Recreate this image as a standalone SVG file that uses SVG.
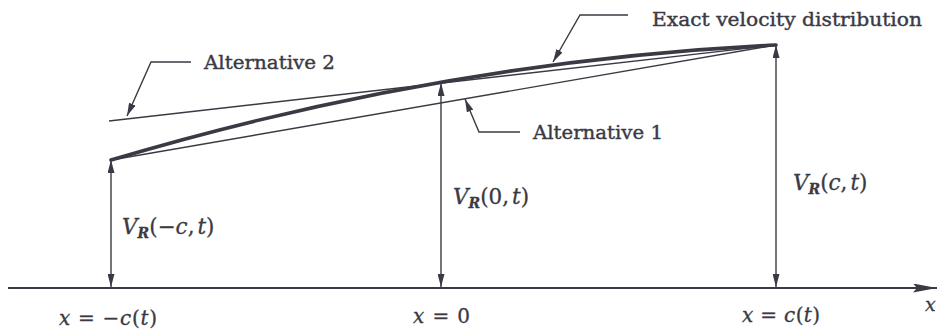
<svg xmlns="http://www.w3.org/2000/svg" width="940" height="332" viewBox="0 0 940 332">
<style>
.ln{fill:none;stroke:#3a3a44;stroke-width:1.4}
.thick{fill:none;stroke:#3a3a44;stroke-width:3.6;stroke-linecap:round}
.ax{fill:none;stroke:#3a3a44;stroke-width:2}
.lbl{font-family:"DejaVu Serif","Liberation Serif",serif;font-size:19px;fill:#3a3a44;stroke:#3a3a44;stroke-width:0.4}
.math{font-family:"DejaVu Serif","Liberation Serif",serif;fill:#3a3a44;stroke:#3a3a44;stroke-width:0.3}
.it{font-style:italic}
</style>
<defs>
<marker id="ah" viewBox="0 0 13 7" refX="13" refY="3.5" markerWidth="13" markerHeight="7" markerUnits="userSpaceOnUse" orient="auto-start-reverse">
<path d="M0,0 L13,3.5 L0,7 z" fill="#3a3a44"/>
</marker>
<marker id="axh" viewBox="0 0 24 9" refX="24" refY="4.5" markerWidth="24" markerHeight="9" markerUnits="userSpaceOnUse" orient="auto">
<path d="M0,0 L24,4.5 L0,9 L4,4.5 z" fill="#3a3a44"/>
</marker>
</defs>
<g id="axis">
<line class="ax" x1="8" y1="288" x2="937" y2="288" marker-end="url(#axh)"/>
<text class="math it" x="925" y="311" font-size="19">x</text>
</g>
<g id="curves">
<line id="alt2-line" class="ln" x1="109" y1="121" x2="776" y2="45"/>
<line id="alt1-line" class="ln" x1="111" y1="160" x2="776" y2="45"/>
<path id="exact-curve" class="thick" d="M111,160 Q443.5,61 776,45"/>
</g>
<g id="connectors">
<line class="ln" x1="111" y1="287" x2="111" y2="160" marker-start="url(#ah)" marker-end="url(#ah)"/>
<line class="ln" x1="441" y1="287" x2="441" y2="83" marker-start="url(#ah)" marker-end="url(#ah)"/>
<line class="ln" x1="776" y1="287" x2="776" y2="45" marker-start="url(#ah)" marker-end="url(#ah)"/>
<polyline class="ln" points="191,62 151,62 127,116" marker-end="url(#ah)"/>
<polyline class="ln" points="628,15 580,15 553,62" marker-end="url(#ah)"/>
<polyline class="ln" points="520,132 479,132 465,99" marker-end="url(#ah)"/>
</g>
<g id="label-alt2">
<text class="lbl" x="204" y="69" textLength="131" lengthAdjust="spacingAndGlyphs">Alternative 2</text>
</g>
<g id="label-exact">
<text class="lbl" x="652" y="26" textLength="270" lengthAdjust="spacingAndGlyphs">Exact velocity distribution</text>
</g>
<g id="label-alt1">
<text class="lbl" x="533" y="139" textLength="130" lengthAdjust="spacingAndGlyphs">Alternative 1</text>
</g>
<g id="label-vl">
<text class="math" x="122" y="234" font-size="21.5"><tspan class="it">V</tspan><tspan class="it" font-weight="bold" font-size="14" dy="4">R</tspan><tspan dy="-4">(−</tspan><tspan class="it">c</tspan>,<tspan class="it" dx="3">t</tspan>)</text>
</g>
<g id="label-v0">
<text class="math" x="453" y="204" font-size="21.5"><tspan class="it">V</tspan><tspan class="it" font-weight="bold" font-size="14" dy="4">R</tspan><tspan dy="-4">(0,</tspan><tspan class="it" dx="3">t</tspan>)</text>
</g>
<g id="label-vr">
<text class="math" x="793" y="190" font-size="21.5"><tspan class="it">V</tspan><tspan class="it" font-weight="bold" font-size="14" dy="4">R</tspan><tspan dy="-4">(</tspan><tspan class="it">c</tspan>,<tspan class="it" dx="3">t</tspan>)</text>
</g>
<g id="label-xl">
<text class="math" x="59" y="325" font-size="20" textLength="98" lengthAdjust="spacing"><tspan class="it">x</tspan> = −<tspan class="it">c</tspan>(<tspan class="it">t</tspan>)</text>
</g>
<g id="label-x0">
<text class="math" x="413" y="323" font-size="20" textLength="57" lengthAdjust="spacing"><tspan class="it">x</tspan> = 0</text>
</g>
<g id="label-xr">
<text class="math" x="742" y="322" font-size="20" textLength="78" lengthAdjust="spacing"><tspan class="it">x</tspan> = <tspan class="it">c</tspan>(<tspan class="it">t</tspan>)</text>
</g>
</svg>
